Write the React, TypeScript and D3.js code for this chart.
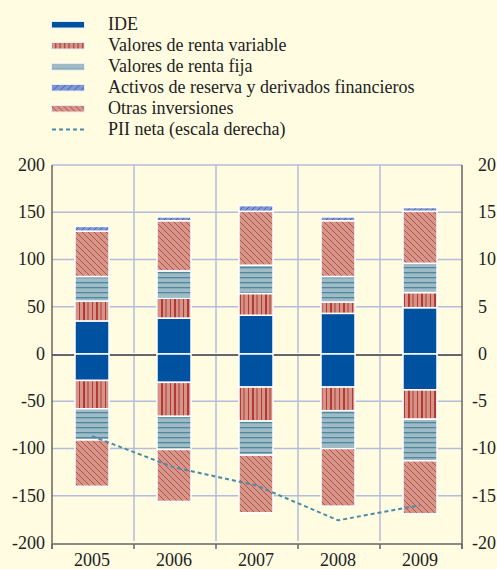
import React from "react";
import { scaleLinear, scaleBand, line } from "d3";

const years = ["2005", "2006", "2007", "2008", "2009"];
const seriesNames = [
  "IDE",
  "Valores de renta variable",
  "Valores de renta fija",
  "Activos de reserva y derivados financieros",
  "Otras inversiones",
];
// activos (positivos)
const idePos = [35, 38, 41, 43, 49];
const rvPos = [21, 21, 23, 12, 16];
const rfPos = [26, 29, 30, 27, 31];
const resPos = [5, 4, 6, 4, 4];
const otrasPos = [48, 53, 57, 59, 55];
// pasivos (negativos)
const ideNeg = [-28, -30, -35, -35, -38];
const rvNeg = [-30, -36, -36, -25, -31];
const rfNeg = [-33, -35, -36, -40, -44];
const otrasNeg = [-49, -55, -61, -61, -56];
// PII neta, escala derecha
const piiNeta = [-8.7, -12.0, -13.9, -17.6, -16.0];

const leftTicks = [200, 150, 100, 50, 0, -50, -100, -150, -200];
const rightTicks = [20, 15, 10, 5, 0, -5, -10, -15, -20];

const W = 497;
const H = 569;
const font = "Liberation Serif, Times New Roman, serif";

export default function App() {
  const x = scaleBand<string>().domain(years).range([52, 462]);
  const y = scaleLinear().domain([-200, 200]).range([543, 165]);
  const y2 = scaleLinear().domain([-20, 20]).range([543, 165]);
  const bw = 34;
  const cx = (yr: string) => (x(yr) as number) + x.bandwidth() / 2 - 1;

  // orden de apilado: positivos desde 0 hacia arriba, negativos hacia abajo
  const posStack = [
    { vals: idePos, fill: "#0052A0" },
    { vals: rvPos, fill: "url(#pRV)" },
    { vals: rfPos, fill: "url(#pRF)" },
    { vals: otrasPos, fill: "url(#pOT)" },
    { vals: resPos, fill: "url(#pRES)" },
  ];
  const negStack = [
    { vals: ideNeg, fill: "#0052A0" },
    { vals: rvNeg, fill: "url(#pRV)" },
    { vals: rfNeg, fill: "url(#pRF)" },
    { vals: otrasNeg, fill: "url(#pOT)" },
  ];

  const rects: any[] = [];
  years.forEach((yr, i) => {
    let acc = 0;
    posStack.forEach((s, k) => {
      const v0 = acc;
      acc += s.vals[i];
      rects.push(
        <rect key={"p" + i + k} x={cx(yr) - bw / 2} y={y(acc)} width={bw}
          height={y(v0) - y(acc)} fill={s.fill} stroke="#fff" strokeWidth={1.5} />
      );
    });
    acc = 0;
    negStack.forEach((s, k) => {
      const v0 = acc;
      acc += s.vals[i];
      rects.push(
        <rect key={"n" + i + k} x={cx(yr) - bw / 2} y={y(v0)} width={bw}
          height={y(acc) - y(v0)} fill={s.fill} stroke="#fff" strokeWidth={1.5} />
      );
    });
  });

  const piiLine = line<number>()
    .x((d, i) => cx(years[i]))
    .y((d) => y2(d))(piiNeta);

  const legendFills = ["#0052A0", "url(#pRVl)", "url(#pRFl)", "url(#pRESl)", "url(#pOT)"];
  const bounds = [52, ...years.map((yr) => (x(yr) as number) + x.bandwidth())];

  return (
    <svg width={W} height={H} style={{ position: "absolute", left: 0, top: 0 }}>
      <defs>
        <pattern id="pRV" width={13} height={10} patternUnits="userSpaceOnUse">
          <rect width={13} height={10} fill="#D4948A" />
          <rect x={1} width={1} height={10} fill="#B23A33" />
          <rect x={5} width={2} height={10} fill="#B23A33" />
          <rect x={9.5} width={1} height={10} fill="#B23A33" />
        </pattern>
        <pattern id="pRVl" width={4.5} height={10} patternUnits="userSpaceOnUse">
          <rect width={4.5} height={10} fill="#D4948A" />
          <rect x={1} width={1.2} height={10} fill="#B23A33" />
        </pattern>
        <pattern id="pRF" width={10} height={5} patternUnits="userSpaceOnUse">
          <rect width={10} height={5} fill="#A0BBC7" />
          <rect y={2} width={10} height={1.3} fill="#4C8A9A" />
        </pattern>
        <pattern id="pRFl" width={10} height={7} patternUnits="userSpaceOnUse">
          <rect width={10} height={7} fill="#A0BBC7" />
          <rect y={2.5} width={10} height={1.5} fill="#4C8A9A" />
        </pattern>
        <pattern id="pOT" width={6} height={6} patternUnits="userSpaceOnUse">
          <rect width={6} height={6} fill="#D6968A" />
          <path d="M-1,-1 L7,7 M-1,5 L1,7 M5,-1 L7,1" stroke="#B2473F" strokeWidth={0.9} />
        </pattern>
        <pattern id="pRES" width={6} height={6} patternUnits="userSpaceOnUse">
          <rect width={6} height={6} fill="#7F97D2" />
          <path d="M-1,7 L7,-1 M-1,1 L1,-1 M5,7 L7,5" stroke="#3658A8" strokeWidth={0.8} />
        </pattern>
        <pattern id="pRESl" width={7} height={7} patternUnits="userSpaceOnUse">
          <rect width={7} height={7} fill="#7F97D2" />
          <path d="M-1,8 L8,-1 M-1,1 L1,-1 M6,8 L8,6" stroke="#3658A8" strokeWidth={0.9} />
        </pattern>
      </defs>
      <rect width={W} height={H} fill="#FFFCE1" />

      {/* leyenda */}
      <g style={{ fontFamily: font, fontSize: 18 }} fill="#222">
        {seriesNames.map((n, i) => (
          <g key={n} transform={`translate(0,${24.5 + i * 21})`}>
            <rect x={51.5} y={-3} width={33} height={6.5} fill={legendFills[i]} stroke="#E8ECF5" strokeWidth={1} />
            <text x={108} y={0} dy="0.33em">{n}</text>
          </g>
        ))}
        <g transform="translate(0,129.5)">
          <line x1={52} x2={86} y1={0} y2={0} stroke="#4A8CA6" strokeWidth={2} strokeDasharray="4,3" />
          <text x={108} y={0} dy="0.33em">PII neta (escala derecha)</text>
        </g>
      </g>

      {/* rejilla */}
      <g stroke="#B3BCDB" strokeWidth={1.5}>
        {leftTicks.filter((t) => t !== 0 && t !== -200).map((t) => (
          <line key={t} x1={52} x2={462} y1={y(t)} y2={y(t)} />
        ))}
        {bounds.slice(1, -1).map((b) => (
          <line key={b} x1={b} x2={b} y1={165} y2={541} />
        ))}
      </g>

      {/* eje cero */}
      <line x1={52} x2={462} y1={y(0) + 1} y2={y(0) + 1} stroke="#666" strokeWidth={2} />
      <line x1={52} x2={462} y1={y(0) - 0.5} y2={y(0) - 0.5} stroke="#fff" strokeWidth={1} />

      {rects}

      <path d={piiLine || ""} fill="none" stroke="#4A8CA6" strokeWidth={2} strokeDasharray="4,3" />

      {/* ejes */}
      <g stroke="#666" strokeWidth={1.5}>
        <line x1={52} x2={52} y1={165} y2={549} />
        <line x1={462} x2={462} y1={165} y2={549} />
        <line x1={52} x2={462} y1={544} y2={544} />
        {bounds.map((b) => (
          <line key={b} x1={b} x2={b} y1={544} y2={549} />
        ))}
      </g>

      <g style={{ fontFamily: font, fontSize: 18 }} fill="#222">
        {leftTicks.map((t) => (
          <text key={t} x={45} y={y(t)} dy="0.33em" textAnchor="end">{t}</text>
        ))}
        {rightTicks.map((t) => (
          <text key={t} x={t < 0 ? 472 : 478} y={y2(t)} dy="0.33em">{t}</text>
        ))}
        {years.map((yr) => (
          <text key={yr} x={cx(yr)} y={566} textAnchor="middle">{yr}</text>
        ))}
      </g>
    </svg>
  );
}
